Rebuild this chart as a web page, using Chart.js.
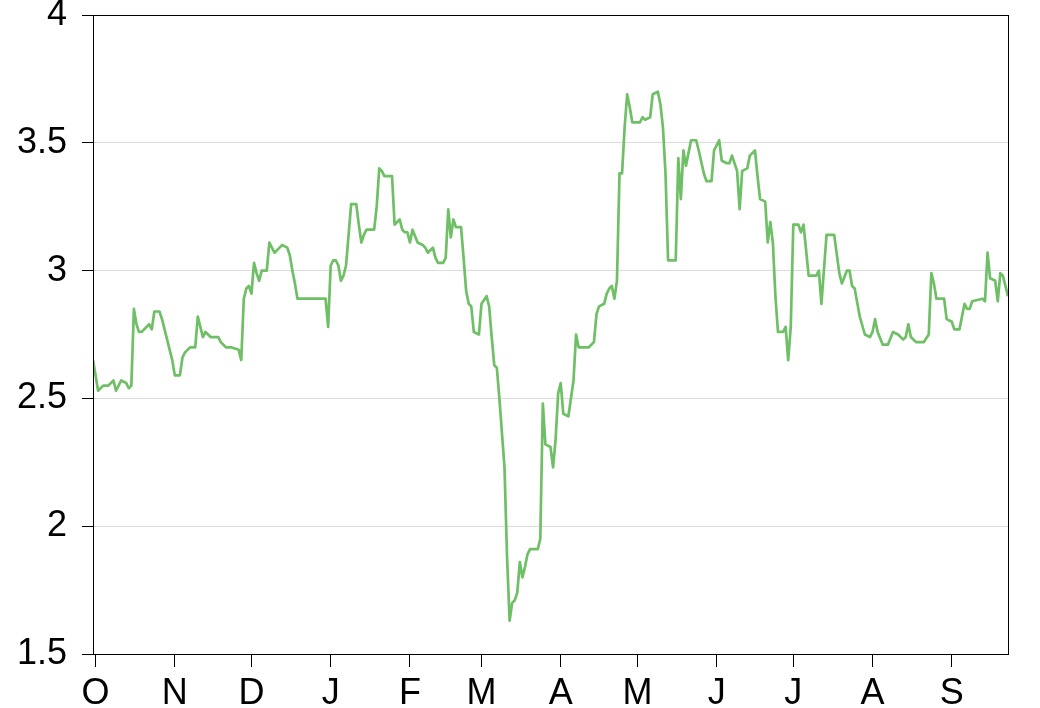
<!DOCTYPE html>
<html>
<head>
<meta charset="utf-8">
<script src="https://cdn.jsdelivr.net/npm/chart.js@4"></script>
<style>
  body { margin: 0; background: #fff; }
  canvas { display: block; }
</style>
</head>
<body>
<canvas id="chart" width="1040" height="708"></canvas>
<script>
'use strict';

// days counted from 1 October
var days = [
    -1, 1, 3, 5, 7, 8, 9, 10, 12, 13, 14, 15, 16, 17, 18, 19, 21, 22, 23, 25,
    26, 28, 30, 31, 33, 34, 35, 36, 37, 39, 40, 41, 42, 43, 45, 48, 49, 51, 53, 56,
    57, 58, 59, 60, 61, 62, 63, 64, 65, 67, 68, 69, 70, 72, 73, 75, 76, 77, 78, 79,
    80, 90, 91, 92, 93, 94, 95, 96, 97, 98, 100, 102, 103, 104, 105, 106, 109, 110, 111, 112,
    113, 116, 117, 118, 119, 120, 121, 122, 123, 124, 126, 128, 129, 130, 132, 133, 134, 136, 137, 138,
    139, 140, 141, 143, 144, 145, 146, 147, 148, 150, 151, 153, 154, 155, 156, 157, 158, 160, 161, 162,
    163, 164, 165, 166, 167, 168, 169, 170, 173, 174, 175, 176, 178, 179, 180, 181, 182, 183, 185, 187,
    188, 189, 193, 195, 196, 197, 199, 200, 201, 202, 203, 204, 205, 206, 207, 208, 209, 210, 213, 214,
    215, 217, 218, 220, 221, 222, 223, 224, 225, 227, 228, 229, 230, 231, 232, 233, 235, 236, 238, 239,
    241, 242, 244, 245, 247, 248, 249, 251, 252, 253, 255, 256, 258, 259, 260, 262, 263, 264, 265, 266,
    267, 269, 270, 271, 272, 273, 275, 276, 277, 279, 282, 283, 284, 286, 289, 291, 292, 294, 295, 296,
    297, 299, 301, 303, 304, 305, 306, 308, 310, 312, 314, 316, 317, 318, 319, 321, 324, 326, 327, 328,
    329, 332, 333, 335, 336, 338, 340, 341, 342, 343, 347, 348, 349, 350, 352, 353, 354, 355, 357
];
var rates = [
    2.65, 2.53, 2.55, 2.55, 2.57, 2.53, 2.55, 2.57, 2.56, 2.54, 2.55, 2.85, 2.79, 2.76, 2.76, 2.77, 2.79, 2.77, 2.84, 2.84,
    2.81, 2.73, 2.65, 2.59, 2.59, 2.66, 2.68, 2.69, 2.70, 2.70, 2.82, 2.78, 2.74, 2.76, 2.74, 2.74, 2.72, 2.70, 2.70, 2.69,
    2.65, 2.89, 2.93, 2.94, 2.91, 3.03, 2.99, 2.96, 3.00, 3.00, 3.11, 3.09, 3.07, 3.09, 3.10, 3.09, 3.06, 3.00, 2.95, 2.89,
    2.89, 2.89, 2.78, 3.02, 3.04, 3.04, 3.02, 2.96, 2.98, 3.02, 3.26, 3.26, 3.18, 3.11, 3.14, 3.16, 3.16, 3.25, 3.40, 3.39,
    3.37, 3.37, 3.18, 3.19, 3.20, 3.16, 3.15, 3.15, 3.11, 3.16, 3.11, 3.10, 3.09, 3.07, 3.09, 3.05, 3.03, 3.03, 3.05, 3.24,
    3.13, 3.20, 3.17, 3.17, 3.05, 2.92, 2.87, 2.86, 2.76, 2.75, 2.87, 2.90, 2.86, 2.74, 2.63, 2.62, 2.50, 2.23, 1.88, 1.63,
    1.70, 1.71, 1.74, 1.86, 1.80, 1.84, 1.89, 1.91, 1.91, 1.95, 2.48, 2.32, 2.31, 2.23, 2.34, 2.52, 2.56, 2.44, 2.43, 2.57,
    2.75, 2.70, 2.70, 2.72, 2.83, 2.86, 2.87, 2.91, 2.93, 2.94, 2.89, 2.96, 3.38, 3.38, 3.56, 3.69, 3.64, 3.58, 3.58, 3.60,
    3.59, 3.60, 3.69, 3.70, 3.65, 3.56, 3.38, 3.04, 3.04, 3.04, 3.44, 3.28, 3.47, 3.41, 3.46, 3.51, 3.51, 3.47, 3.38, 3.35,
    3.35, 3.47, 3.51, 3.43, 3.42, 3.42, 3.45, 3.39, 3.24, 3.39, 3.40, 3.45, 3.47, 3.37, 3.28, 3.27, 3.11, 3.19, 3.11, 2.90,
    2.76, 2.76, 2.78, 2.65, 2.78, 3.18, 3.18, 3.15, 3.18, 2.98, 2.98, 3.00, 2.87, 3.14, 3.14, 2.99, 2.95, 3.00, 3.00, 2.94,
    2.93, 2.82, 2.75, 2.74, 2.76, 2.81, 2.76, 2.71, 2.71, 2.76, 2.75, 2.73, 2.74, 2.79, 2.74, 2.72, 2.72, 2.75, 2.99, 2.95,
    2.89, 2.89, 2.81, 2.80, 2.77, 2.77, 2.87, 2.85, 2.85, 2.88, 2.89, 2.88, 3.07, 2.97, 2.96, 2.88, 2.99, 2.98, 2.90
];

var monthStarts = [0, 31, 61, 92, 123, 151, 182, 212, 243, 273, 304, 335];
var monthLabels = ['O', 'N', 'D', 'J', 'F', 'M', 'A', 'M', 'J', 'J', 'A', 'S'];
var yTicks = [1.5, 2, 2.5, 3, 3.5, 4];

var points = days.map(function(d, i) {
    return { x: d, y: rates[i] };
});

// draw the box round the plot area
var frame = {
    id: 'frame',
    afterDraw: function(chart) {
        var a = chart.chartArea;
        var ctx = chart.ctx;
        ctx.save();
        ctx.strokeStyle = '#000';
        ctx.lineWidth = 1;
        ctx.strokeRect(a.left + 0.5, a.top + 0.5, a.right - a.left, a.bottom - a.top);
        ctx.restore();
    }
};

Chart.defaults.font.family = '"Liberation Sans", Arial, sans-serif';
Chart.defaults.color = '#000';

new Chart(document.getElementById('chart').getContext('2d'), {
    type: 'line',
    data: {
        datasets: [{
            data: points,
            borderColor: '#6fbf66',
            borderWidth: 2.7,
            borderJoinStyle: 'round',
            pointRadius: 0,
            tension: 0,
            fill: false
        }]
    },
    options: {
        responsive: false,
        animation: false,
        layout: { padding: { top: 15, right: 32, bottom: 0, left: 0 } },
        plugins: {
            legend: { display: false },
            tooltip: { enabled: false }
        },
        scales: {
            x: {
                type: 'linear',
                min: -1,
                max: 357,
                afterBuildTicks: function(scale) {
                    scale.ticks = monthStarts.map(function(v) { return { value: v }; });
                },
                afterFit: function(scale) {
                    scale.height = 54;
                    scale.paddingLeft = 0;
                    scale.paddingRight = 0;
                },
                ticks: {
                    autoSkip: false,
                    maxRotation: 0,
                    padding: 5,
                    font: { size: 36 },
                    callback: function(value) {
                        var i = monthStarts.indexOf(value);
                        return i >= 0 ? monthLabels[i] : '';
                    }
                },
                grid: {
                    drawOnChartArea: false,
                    tickLength: 13,
                    tickColor: '#000'
                },
                border: { color: '#000' }
            },
            y: {
                min: 1.5,
                max: 4,
                afterBuildTicks: function(scale) {
                    scale.ticks = yTicks.map(function(v) { return { value: v }; });
                },
                afterFit: function(scale) {
                    scale.width = 93;
                    scale.paddingTop = 0;
                    scale.paddingBottom = 0;
                },
                ticks: {
                    padding: 15,
                    font: { size: 36 },
                    callback: function(value) { return String(value); }
                },
                grid: {
                    color: '#dcdcdc',
                    tickColor: '#000',
                    tickLength: 11
                },
                border: { color: '#000' }
            }
        }
    },
    plugins: [frame]
});
</script>
</body>
</html>
